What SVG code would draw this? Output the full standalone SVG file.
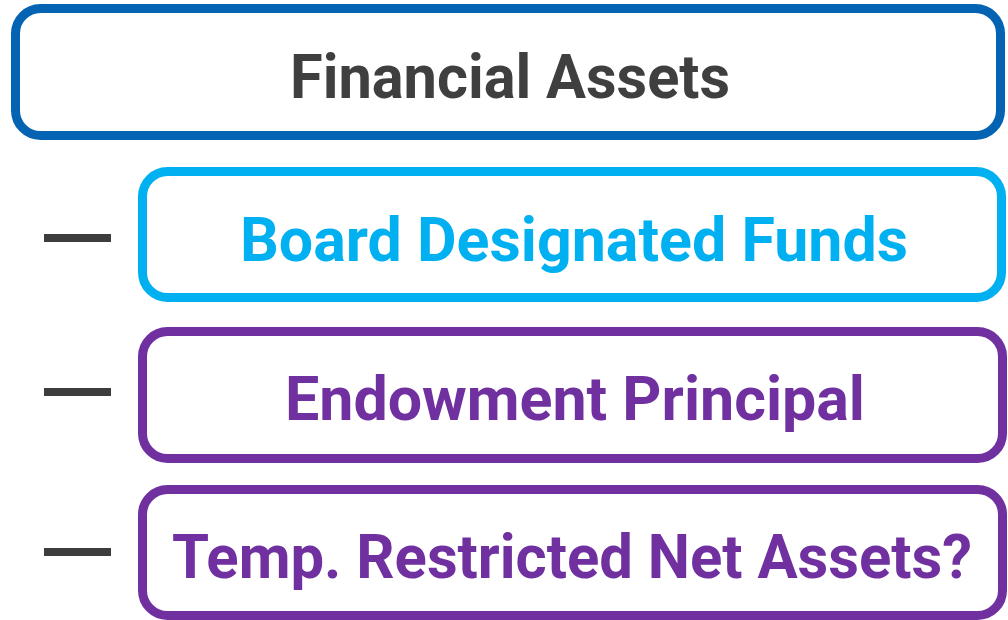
<svg xmlns="http://www.w3.org/2000/svg" width="1008" height="620" viewBox="0 0 1008 620">
  <style>
    .box { fill: #ffffff; stroke-width: 9; }
    .lbl { font-family: Roboto, "Liberation Sans", sans-serif; font-weight: 700; font-size: 62px; text-anchor: middle; }
    .dash { stroke: #3d3d3d; stroke-width: 8; }
  </style>
  <rect width="1008" height="620" fill="#ffffff"/>

  <g id="financial-assets">
    <rect class="box" x="15.5" y="8.5" width="985" height="127" rx="25" stroke="#0563b4"/>
    <text class="lbl" x="510" y="98" fill="#3f3f3f" textLength="440" lengthAdjust="spacingAndGlyphs">Financial Assets</text>
  </g>

  <g id="board-designated-funds">
    <rect class="box" x="142.5" y="171.5" width="859" height="126" rx="25" stroke="#00b0f0"/>
    <text class="lbl" x="574" y="261" fill="#00b0f0" textLength="668" lengthAdjust="spacingAndGlyphs">Board Designated Funds</text>
  </g>

  <g id="endowment-principal">
    <rect class="box" x="142.5" y="331.5" width="860" height="127" rx="25" stroke="#7030a0"/>
    <text class="lbl" x="575" y="420" fill="#7030a0" textLength="580" lengthAdjust="spacingAndGlyphs">Endowment Principal</text>
  </g>

  <g id="temp-restricted-net-assets">
    <rect class="box" x="142.5" y="489.5" width="860" height="126" rx="25" stroke="#7030a0"/>
    <text class="lbl" x="572" y="578" fill="#7030a0" textLength="800" lengthAdjust="spacingAndGlyphs">Temp. Restricted Net Assets?</text>
  </g>

  <g id="connectors">
    <line class="dash" x1="44" y1="238" x2="111" y2="238"/>
    <line class="dash" x1="44" y1="392" x2="111" y2="392"/>
    <line class="dash" x1="44" y1="552" x2="111" y2="552"/>
  </g>
</svg>
